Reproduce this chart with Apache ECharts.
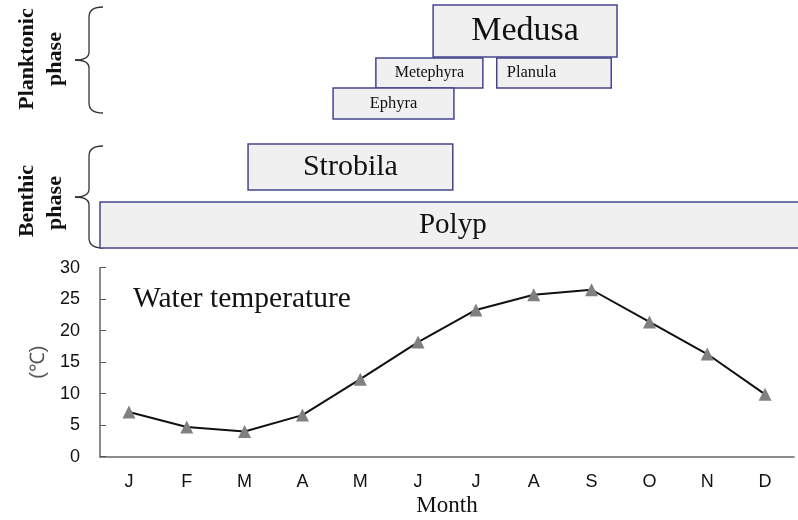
<!DOCTYPE html>
<html>
<head>
<meta charset="utf-8">
<script src="https://cdn.jsdelivr.net/npm/echarts@6/dist/echarts.min.js"></script>
<style>html,body{margin:0;padding:0;background:#fff}#c{width:798px;height:520px}</style>
</head>
<body>
<div id="c"></div>
<script>
// ---- data ----
var months = ['J','F','M','A','M','J','J','A','S','O','N','D'];
var temperature = [7.1, 4.7, 4.0, 6.6, 12.3, 18.2, 23.3, 25.7, 26.5, 21.4, 16.3, 9.9];
var yTicks = [0, 5, 10, 15, 20, 25, 30];

// life stages: name, start (month position), end (month position), row
var stageNames = ['Medusa', 'Metephyra', 'Planula', 'Ephyra', 'Strobila', 'Polyp'];
var stageStart = [5.76, 4.77, 6.86, 4.03, 2.56, 0];
var stageEnd   = [8.94, 6.62, 8.84, 6.12, 6.10, 12.2];
var stageRow   = [0, 1, 1, 2, 3, 4];

// ---- layout / style (not data) ----
var rowBand = [[5, 57], [58, 88], [88, 119], [144, 190], [202, 248]];
var stageFont = {Medusa: 34, Metephyra: 16, Planula: 16.5, Ephyra: 16.5, Strobila: 30, Polyp: 29};
var stageAlign = {Planula: 'left'};

var stageData = stageNames.map(function (n, i) {
  return {name: n, value: [stageStart[i], stageEnd[i], rowBand[stageRow[i]][0], rowBand[stageRow[i]][1]]};
});

var chart = echarts.init(document.getElementById('c'));
var serif = '"Liberation Serif", "Times New Roman", serif';
var sans = '"Liberation Sans", Arial, sans-serif';

function brace(x, top, bottom) {
  var mid = (top + bottom) / 2;
  var xr = x + 28, xm = x + 14, xl = x;
  var st = {stroke: '#333', lineWidth: 1.3, fill: 'none'};
  return {
    type: 'group',
    children: [
      {type: 'bezierCurve', shape: {x1: xr, y1: top, x2: xm, y2: top + 10, cpx1: xm, cpy1: top}, style: st},
      {type: 'line', shape: {x1: xm, y1: top + 10, x2: xm, y2: mid - 8}, style: st},
      {type: 'bezierCurve', shape: {x1: xm, y1: mid - 8, x2: xl, y2: mid, cpx1: xm, cpy1: mid}, style: st},
      {type: 'bezierCurve', shape: {x1: xl, y1: mid, x2: xm, y2: mid + 8, cpx1: xm, cpy1: mid}, style: st},
      {type: 'line', shape: {x1: xm, y1: mid + 8, x2: xm, y2: bottom - 10}, style: st},
      {type: 'bezierCurve', shape: {x1: xm, y1: bottom - 10, x2: xr, y2: bottom, cpx1: xm, cpy1: bottom}, style: st}
    ]
  };
}

function sideLabel(text, x, y) {
  return {type: 'text', x: x, y: y, rotation: Math.PI / 2,
    style: {text: text, fontFamily: serif, fontSize: 22, fontWeight: 'bold', fill: '#111', align: 'center', verticalAlign: 'middle'}};
}

var option = {
  animation: false,
  grid: [
    {left: 100, width: 694, top: 0, height: 250, containLabel: false, outerBoundsMode: 'none'},
    {left: 100, width: 694, top: 267.7, height: 189, containLabel: false, outerBoundsMode: 'none'}
  ],
  xAxis: [
    {gridIndex: 0, type: 'value', min: 0, max: 12, show: false},
    {
      gridIndex: 1, type: 'category', data: months, boundaryGap: true,
      axisLine: {lineStyle: {color: '#666', width: 1.5}},
      axisTick: {inside: true, length: 5, interval: 0, lineStyle: {color: '#555'}},
      axisLabel: {color: '#111', fontFamily: sans, fontSize: 18, margin: 16},
      name: 'Month', nameLocation: 'middle', nameGap: 38,
      nameTextStyle: {fontFamily: serif, fontSize: 23, color: '#111'}
    }
  ],
  yAxis: [
    {gridIndex: 0, type: 'value', min: 0, max: 250, inverse: true, show: false},
    {
      gridIndex: 1, type: 'value', min: yTicks[0], max: yTicks[yTicks.length - 1], interval: 5,
      axisLine: {show: true, lineStyle: {color: '#666', width: 1.5}},
      axisTick: {show: true, inside: true, length: 6, lineStyle: {color: '#555'}},
      splitLine: {show: false},
      axisLabel: {color: '#111', fontFamily: sans, fontSize: 18, margin: 20},
      name: '(℃)', nameLocation: 'middle', nameGap: 52, nameRotate: 90,
      nameTextStyle: {fontFamily: sans, fontSize: 20, color: '#555'}
    }
  ],
  series: [
    {
      type: 'custom', xAxisIndex: 0, yAxisIndex: 0, clip: false,
      data: stageData,
      renderItem: function (params, api) {
        var p0 = api.coord([api.value(0), api.value(2)]);
        var p1 = api.coord([api.value(1), api.value(3)]);
        var name = stageNames[params.dataIndex];
        var align = stageAlign[name] || 'center';
        var tx = align === 'left' ? p0[0] + 10 : (p0[0] + p1[0]) / 2;
        return {
          type: 'group',
          children: [
            {type: 'rect', shape: {x: p0[0], y: p0[1], width: p1[0] - p0[0], height: p1[1] - p0[1]},
             style: {fill: '#f0f0f0', stroke: '#45458e', lineWidth: 1.5}},
            {type: 'text', x: tx, y: (p0[1] + p1[1]) / 2,
             style: {text: name, fontFamily: serif, fontSize: stageFont[name], fill: '#111',
                     align: align, verticalAlign: 'middle'}}
          ]
        };
      }
    },
    {
      type: 'line', xAxisIndex: 1, yAxisIndex: 1,
      data: temperature,
      symbol: 'triangle', symbolSize: 13,
      itemStyle: {color: '#808080'},
      lineStyle: {color: '#111', width: 2}
    }
  ],
  graphic: [
    brace(75, 7, 113),
    brace(75, 146, 248),
    sideLabel('Planktonic', 27, 59),
    sideLabel('phase', 55, 59),
    sideLabel('Benthic', 27, 201),
    sideLabel('phase', 55, 203),
    {type: 'text', x: 133, y: 299,
     style: {text: 'Water temperature', fontFamily: serif, fontSize: 29.5, fill: '#111', align: 'left', verticalAlign: 'middle'}}
  ]
};
chart.setOption(option);
</script>
</body>
</html>
